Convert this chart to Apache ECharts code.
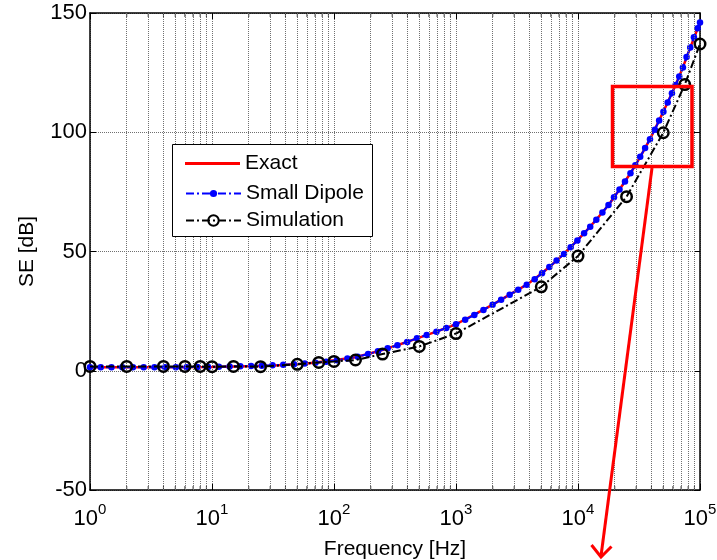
<!DOCTYPE html>
<html>
<head>
<meta charset="utf-8">
<script src="https://cdn.jsdelivr.net/npm/echarts@6/dist/echarts.min.js"></script>
<style>
html,body{margin:0;padding:0;background:#fff;}
#chart{width:717px;height:560px;}
</style>
</head>
<body>
<div id="chart"></div>
<script>
// ---- data ----
const dipoleFreq = [1,1.225,1.5,1.837,2.249,2.754,3.373,4.13,5.058,6.194,7.586,9.29,11.38,13.93,17.06,20.89,25.59,31.33,38.37,46.99,57.54,70.47,86.3,105.7,128.8,156.7,190.5,229.1,275.4,331.1,398.1,478.6,575.4,691.8,831.8,1000,1189,1413,1679,1995,2344,2754,3236,3802,4416,5070,5821,6683,7674,8710,9886,11220,12590,14130,15850,17780,19720,21880,24270,26920,29510,32360,35480,38900,42660,46240,50120,54330,58880,63100,67610,72440,77620,83180,89130,95500,100000];
const dipoleSE = [1.5,1.5,1.5,1.5,1.5,1.5,1.5,1.5,1.5,1.5,1.6,1.6,1.7,1.8,1.9,2.0,2.1,2.3,2.5,2.7,3.0,3.4,3.8,4.4,5.1,5.9,7.0,8.2,9.4,10.7,12.1,13.6,15.0,16.4,17.9,19.5,21.4,23.4,25.5,27.7,29.8,31.9,34.0,36.1,38.4,40.9,43.5,46.2,49.0,51.8,54.6,57.6,60.4,63.3,66.4,69.5,72.7,76.0,79.4,82.8,86.2,89.7,93.4,97.1,101.1,104.9,108.6,112.5,116.4,119.8,123.4,127.2,131.5,135.5,139.8,143.6,146.0];
const exactFreq = [1,3,10,30,60,100,150,230,330,480,690,1000,1400,2000,2750,3800,5060,6700,8700,11200,14100,17800,21900,26900,32400,38900,46200,54300,63100,72400,83200,100000];
const exactSE = [1.5,1.5,1.6,2.1,3.0,4.4,5.7,8.2,10.7,13.6,16.4,19.5,23.4,27.7,31.9,36.1,40.9,46.2,51.8,57.6,63.3,69.5,76.0,82.8,89.7,97.1,104.9,112.5,119.8,127.2,135.5,146.0];
const simFreq = [1,2,4,6,8,10,15,25,50,75,100,150,250,500,1000,5000,10000,25000,50000,75000,100000];
const simSE = [1.8,1.8,1.8,1.8,1.8,1.7,1.8,1.7,2.7,3.5,3.9,4.5,7.0,10.2,15.6,35.2,48.1,73.0,99.8,120.0,137.0];
const minorTicks = [2,3,4,5,6,7,8,9,20,30,40,50,60,70,80,90,200,300,400,500,600,700,800,900,2000,3000,4000,5000,6000,7000,8000,9000,20000,30000,40000,50000,60000,70000,80000,90000];
const seriesNames = ['Exact','Small Dipole','Simulation'];
const xName = 'Frequency [Hz]';
const yName = 'SE [dB]';
const yTicks = {min: -50, max: 150, step: 50};

const pair = (xs, ys) => xs.map((x, i) => [x, ys[i]]);
const FONT = 'Liberation Sans, Arial, sans-serif';
const dashDot = [8, 3, 2, 3];
const gridLine = {color: '#707070', width: 1, type: [1, 1]};

const chart = echarts.init(document.getElementById('chart'), null, {renderer: 'canvas'});

const logLabel = {
  show: true,
  margin: 4,
  formatter: v => '{b|10}{e|' + Math.round(Math.log10(v)) + '}',
  rich: {
    b: {fontSize: 22, fontFamily: FONT, color: '#000', lineHeight: 36, verticalAlign: 'bottom'},
    e: {fontSize: 15, fontFamily: FONT, color: '#000', lineHeight: 15, verticalAlign: 'top', padding: [8, 0, 0, 0]}
  }
};

const option = {
  animation: false,
  backgroundColor: '#fff',
  textStyle: {fontFamily: FONT},
  grid: {left: 90, top: 13, width: 610, height: 477, containLabel: false, outerBoundsMode: 'none'},
  xAxis: [
    {
      type: 'log', logBase: 10, min: 1, max: 100000, position: 'bottom',
      name: xName, nameLocation: 'middle', nameGap: 49,
      nameTextStyle: {fontSize: 21, color: '#000', fontFamily: FONT},
      axisLine: {show: true, onZero: false, lineStyle: {color: '#000', width: 1.5}},
      axisTick: {show: true, inside: true, length: 6, lineStyle: {color: '#000', width: 1}},
      axisLabel: logLabel,
      splitLine: {show: true, lineStyle: gridLine}
    },
    {
      type: 'log', logBase: 10, min: 1, max: 100000, position: 'top',
      axisLine: {show: true, onZero: false, lineStyle: {color: '#000', width: 1.5}},
      axisTick: {show: true, inside: true, length: 6, lineStyle: {color: '#000', width: 1}},
      axisLabel: {show: false},
      splitLine: {show: false}
    }
  ],
  yAxis: [
    {
      type: 'value', min: yTicks.min, max: yTicks.max, interval: yTicks.step, position: 'left',
      name: yName, nameLocation: 'middle', nameGap: 52,
      nameTextStyle: {fontSize: 21, color: '#000', fontFamily: FONT},
      axisLine: {show: true, onZero: false, lineStyle: {color: '#000', width: 1.5}},
      axisTick: {show: true, inside: true, length: 6, lineStyle: {color: '#000', width: 1}},
      axisLabel: {show: true, fontSize: 22, color: '#000', fontFamily: FONT, margin: 3},
      splitLine: {show: true, lineStyle: gridLine}
    },
    {
      type: 'value', min: yTicks.min, max: yTicks.max, interval: yTicks.step, position: 'right',
      axisLine: {show: true, onZero: false, lineStyle: {color: '#000', width: 1.5}},
      axisTick: {show: true, inside: true, length: 6, lineStyle: {color: '#000', width: 1}},
      axisLabel: {show: false},
      splitLine: {show: false}
    }
  ],
  legend: [
    {
      data: [{name: seriesNames[0], icon: 'path://M0,0H55V3H0Z'}],
      left: 185, top: 153, padding: 0, itemWidth: 55, itemHeight: 14, selectedMode: false,
      textStyle: {fontSize: 21, color: '#000', fontFamily: FONT}, z: 10
    },
    {
      data: [seriesNames[1]],
      left: 185, top: 183, padding: 0, itemWidth: 55, itemHeight: 9, selectedMode: false,
      textStyle: {fontSize: 21, color: '#000', fontFamily: FONT}, z: 10
    },
    {
      data: [seriesNames[2]],
      left: 185, top: 210, padding: 0, itemWidth: 55, itemHeight: 13, selectedMode: false,
      textStyle: {fontSize: 21, color: '#000', fontFamily: FONT}, z: 10
    }
  ],
  graphic: [
    {type: 'rect', z: 9, silent: true,
     shape: {x: 172.5, y: 144.5, width: 200, height: 92},
     style: {fill: '#fff', stroke: '#000', lineWidth: 1}},
    {type: 'rect', z: 20, silent: true,
     shape: {x: 612.5, y: 86.5, width: 79.5, height: 80},
     style: {fill: 'none', stroke: '#ff0000', lineWidth: 3.5}},
    {type: 'polyline', z: 20, silent: true,
     shape: {points: [[652, 168], [601, 556]]},
     style: {stroke: '#ff0000', lineWidth: 3, fill: null}},
    {type: 'polyline', z: 20, silent: true,
     shape: {points: [[591.5, 545], [601, 557], [611.5, 546.5]]},
     style: {stroke: '#ff0000', lineWidth: 3, fill: null}}
  ],
  series: [
    {
      name: '_minor', type: 'scatter', silent: true, xAxisIndex: 0, yAxisIndex: 0,
      symbol: 'rect', symbolSize: [1, 4], symbolOffset: [0, -2],
      itemStyle: {color: '#000'},
      data: minorTicks.map(v => [v, yTicks.min]),
      markLine: {
        silent: true, symbol: 'none', label: {show: false},
        lineStyle: gridLine, animation: false,
        data: minorTicks.map(v => ({xAxis: v}))
      },
      z: 1
    },
    {
      name: '_minorTop', type: 'scatter', silent: true, xAxisIndex: 0, yAxisIndex: 0,
      symbol: 'rect', symbolSize: [1, 4], symbolOffset: [0, 2],
      itemStyle: {color: '#000'},
      data: minorTicks.map(v => [v, yTicks.max]),
      z: 1
    },
    {
      name: seriesNames[0], type: 'line', color: '#ff0000',
      data: pair(exactFreq, exactSE), showSymbol: false, symbol: 'none', smooth: false,
      lineStyle: {color: '#ff0000', width: 2.5, type: 'solid'}, z: 3
    },
    {
      name: seriesNames[1], type: 'line', color: '#0000ff',
      data: pair(dipoleFreq, dipoleSE), symbol: 'circle', symbolSize: 6.5, showAllSymbol: true,
      itemStyle: {color: '#0000ff'},
      lineStyle: {color: '#0000ff', width: 2, type: dashDot}, z: 4
    },
    {
      name: seriesNames[2], type: 'line', color: '#000',
      data: pair(simFreq, simSE), symbol: 'circle', symbolSize: 10.5, showAllSymbol: true,
      itemStyle: {color: 'rgba(0,0,0,0)', borderColor: '#000', borderWidth: 2.5},
      lineStyle: {color: '#000', width: 2, type: dashDot}, z: 5
    }
  ]
};
chart.setOption(option);
</script>
</body>
</html>
